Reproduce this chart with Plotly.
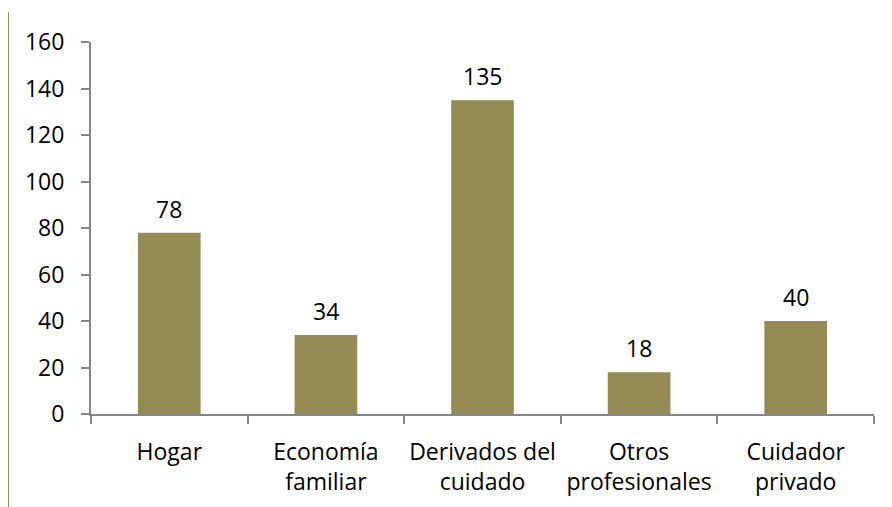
import plotly.graph_objects as go

categories = ["Hogar", "Economía<br>familiar", "Derivados del<br>cuidado", "Otros<br>profesionales", "Cuidador<br>privado"]
values = [78, 34, 135, 18, 40]
y_ticks = [0, 20, 40, 60, 80, 100, 120, 140, 160]

BAR = "#948A54"
AXIS = "#868686"
FONT = dict(family="Open Sans, Calibri, sans-serif", size=23, color="#000000")

fig = go.Figure()
fig.add_trace(go.Bar(x=categories, y=values, marker=dict(color=BAR, line=dict(width=0)), width=0.4))

for c, v in zip(categories, values):
    fig.add_annotation(x=c, y=v, text=str(v), showarrow=False, yanchor="bottom", yshift=6, font=FONT)

fig.add_shape(type="line", xref="paper", yref="paper", x0=-0.106, x1=-0.106, y0=1.08, y1=-0.25,
              line=dict(color="#9A8C55", width=2))

fig.update_layout(
    width=884, height=499,
    margin=dict(l=83, r=18, t=34, b=93),
    paper_bgcolor="white", plot_bgcolor="white",
    font=FONT, showlegend=False,
    bargap=0.6,
)
fig.update_xaxes(showline=True, linecolor=AXIS, linewidth=2, ticks="outside", tickson="boundaries",
                 ticklen=8, tickcolor=AXIS, tickwidth=2, showgrid=False, ticklabelstandoff=16,
                 tickangle=0, automargin=False)
fig.update_yaxes(range=[0, 160], tickvals=y_ticks, showline=True, linecolor=AXIS, linewidth=2,
                 ticks="outside", ticklen=8, tickcolor=AXIS, tickwidth=2, showgrid=False,
                 zeroline=False, ticklabelstandoff=12, automargin=False)

fig.write_html("out.html")
